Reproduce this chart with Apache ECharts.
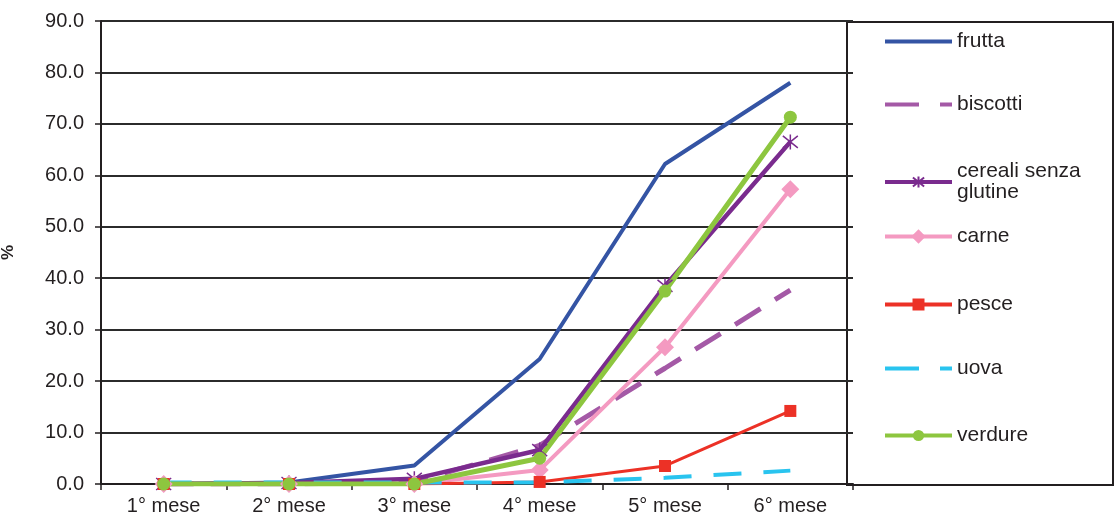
<!DOCTYPE html>
<html><head><meta charset="utf-8">
<script src="https://cdn.jsdelivr.net/npm/echarts@6/dist/echarts.min.js"></script>
<style>html,body{margin:0;padding:0;background:#fff}#c{width:1120px;height:526px}</style>
</head><body><div id="c"></div>
<script>
const categories = ['1° mese','2° mese','3° mese','4° mese','5° mese','6° mese'];
const yTicks = [0,10,20,30,40,50,60,70,80,90];
const frutta   = [0, 0.3, 3.6, 24.3, 62.2, 78.0];
const biscotti = [0, 0, 0.4, 7.5, 22.5, 37.7];
const cereali  = [0, 0.2, 1.0, 6.6, 38.5, 66.5];
const carne    = [0, 0, 0, 2.7, 26.6, 57.3];
const pesce    = [0, 0, 0, 0.4, 3.5, 14.2];
const uova     = [0.3, 0.3, 0.3, 0.3, 1.2, 2.6];
const verdure  = [0, 0, 0, 5.0, 37.5, 71.3];
const seriesNames = ['frutta','biscotti','cereali senza glutine','carne','pesce','uova','verdure'];

const starPath = 'path://M0,-10L0,10M-8,-8L8,8M-8,8L8,-8';
const txt = '#231f20';
const font = 'Liberation Sans, Arial, sans-serif';

const defs = [
  {name:'frutta', data:frutta, color:'#3454a4', width:4, symbol:'none'},
  {name:'biscotti', data:biscotti, color:'#a459a6', width:5, type:[30,17], symbol:'none', legendType:[34,21]},
  {name:'cereali senza glutine', data:cereali, color:'#7a2b8e', width:4.5, symbol:starPath, size:15, stroke:true, lh:14},
  {name:'carne', data:carne, color:'#f49ac1', width:4, symbol:'diamond', size:18, lh:18},
  {name:'pesce', data:pesce, color:'#ec3126', width:3, symbol:'rect', size:12, lh:15},
  {name:'uova', data:uova, color:'#29c4ef', width:4, type:[28,22], symbol:'none', legendType:[34,21]},
  {name:'verdure', data:verdure, color:'#8dc63f', width:5, symbol:'circle', size:13, lh:14}
];
const legendTops = [42,105,172,237,305,369,436];

const series = defs.map(d => ({
  name: d.name, type:'line', data:d.data, symbol:d.symbol, symbolSize:d.size||0,
  showSymbol: d.symbol !== 'none', animation:false,
  lineStyle:{color:d.color, width:d.width, type:d.type||'solid'},
  itemStyle:{color:d.color, borderColor:d.color, borderWidth:d.stroke?1.5:0}
}));

const legends = defs.map((d,i) => {
  const h = d.lh || 14;
  return {
    show:true, left:878, top: legendTops[i] - 16, orient:'vertical',
    itemWidth:67, itemHeight:h, selectedMode:false, itemGap:6,
    textStyle:{color:txt, fontSize:21, fontFamily:font, lineHeight:21},
    formatter: n => n === 'cereali senza glutine' ? 'cereali senza\nglutine' : n,
    data:[{name:d.name,
      itemStyle: d.symbol==='none' ? {color:'rgba(0,0,0,0)', borderWidth:0, borderColor:'rgba(0,0,0,0)'} : {color:d.color, borderColor:d.color},
      lineStyle: {type:d.legendType || 'solid', width:4, color:d.color}}]
  };
});

const chart = echarts.init(document.getElementById('c'), null, {renderer:'canvas'});
chart.setOption({
  animation:false,
  backgroundColor:'#fff',
  grid:{left:101, right:267, top:21, bottom:42, containLabel:false, outerBoundsMode:'none'},
  legend: legends,
  xAxis:{type:'category', data:categories, boundaryGap:true,
    axisLine:{lineStyle:{color:'#231f20', width:2}},
    axisTick:{show:true, alignWithLabel:false, length:6, lineStyle:{color:'#231f20', width:1.5}},
    axisLabel:{color:txt, fontSize:20, fontFamily:font, margin:12}},
  yAxis:{type:'value', min:0, max:90, interval:10,
    name:'%', nameLocation:'middle', nameGap:84, nameRotate:90,
    nameTextStyle:{color:txt, fontSize:17, fontFamily:font, fontWeight:'bold'},
    axisLine:{show:true, lineStyle:{color:'#231f20', width:2}},
    axisTick:{show:true, length:6, lineStyle:{color:'#231f20', width:1.5}},
    axisLabel:{color:txt, fontSize:20, fontFamily:font, margin:17, formatter:v => v.toFixed(1)},
    splitLine:{show:true, lineStyle:{color:'#2b2b2b', width:2}}},
  graphic:[{type:'rect', shape:{x:847, y:22, width:266, height:463}, z:0,
    style:{fill:'#fff', stroke:'#231f20', lineWidth:2}}],
  series: series
});
</script></body></html>
